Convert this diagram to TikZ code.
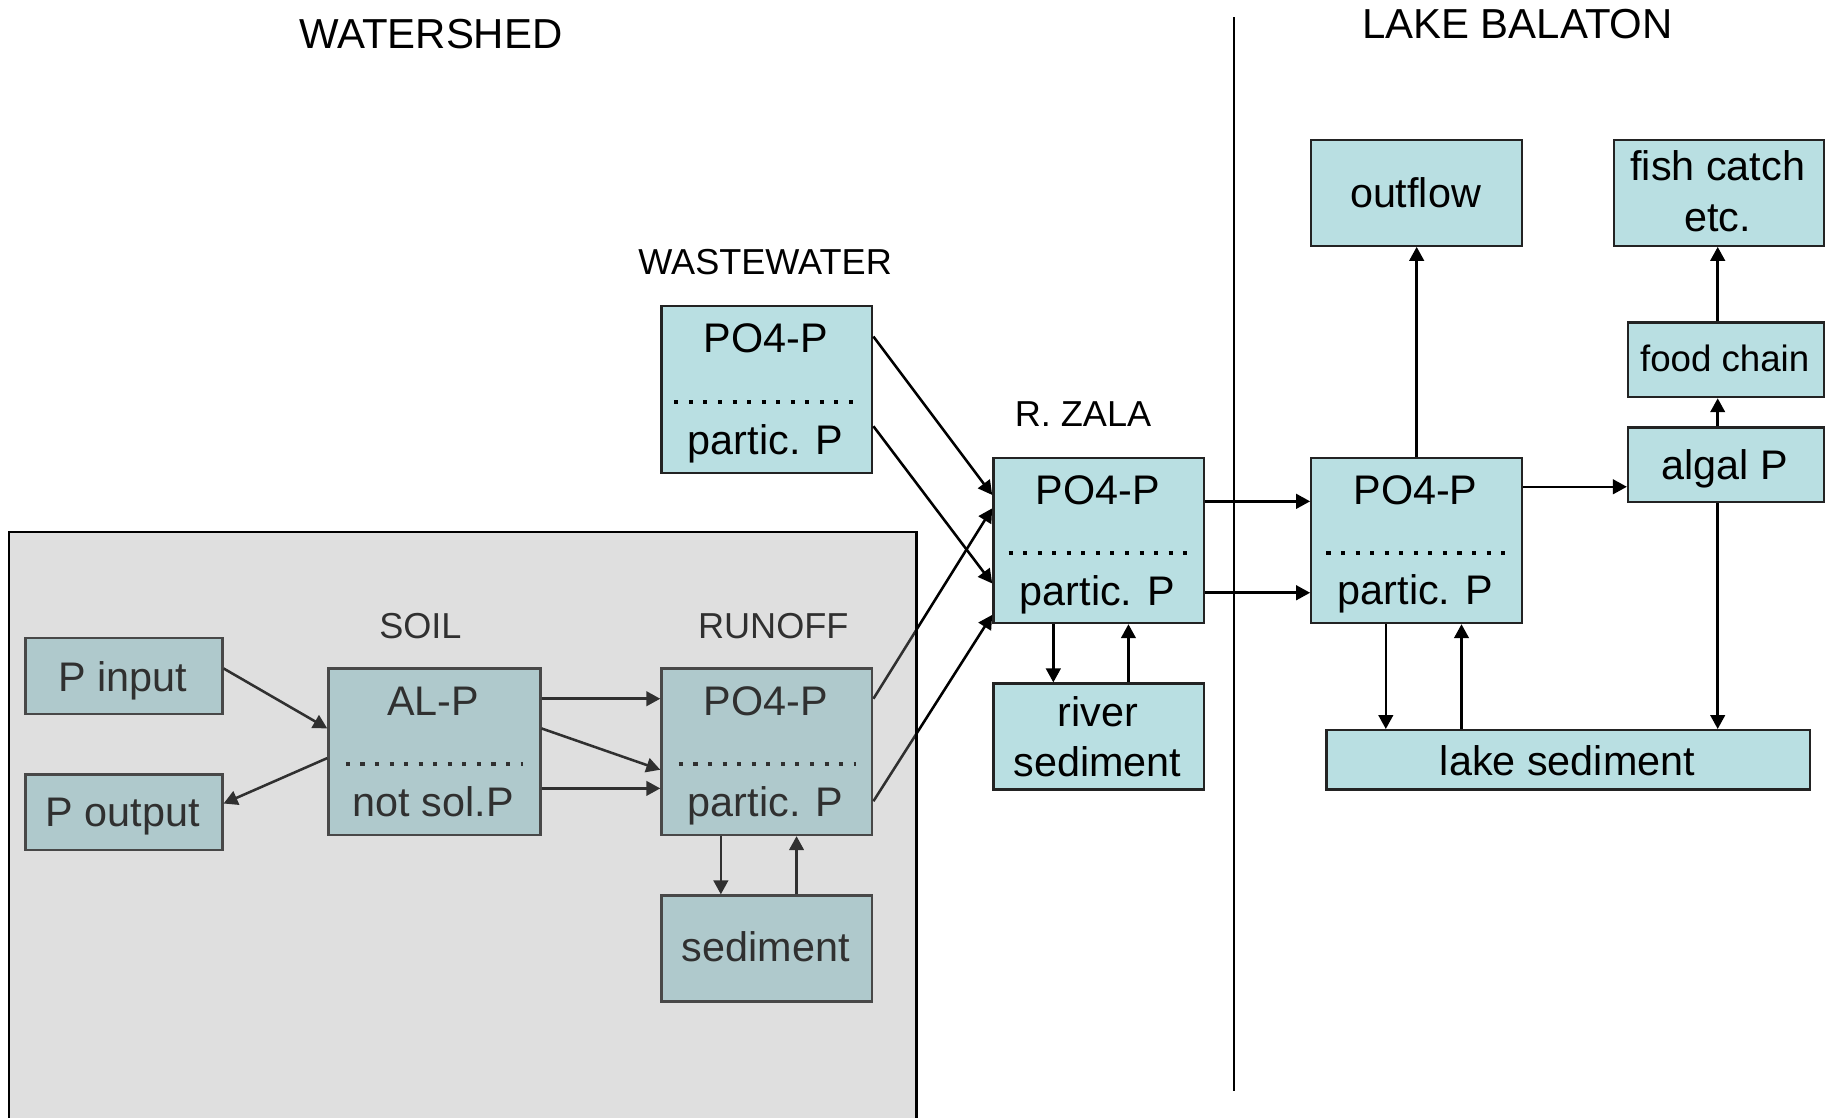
\documentclass[tikz,border=0pt]{standalone}
\usepackage{fontspec}
\setmainfont{Liberation Sans}
\usetikzlibrary{arrows.meta,calc}
\definecolor{boxfill}{RGB}{185,223,226}
\definecolor{ovl}{RGB}{156,156,156}
\definecolor{edge}{RGB}{35,35,35}
\begin{document}
\begin{tikzpicture}[x=1pt,y=-1pt,
  box/.style={draw=edge, line width=2pt, fill=boxfill, inner sep=0pt, anchor=north west},
  txt/.style={anchor=base, inner sep=0pt, font=\fontsize{35.5}{40}\selectfont},
  small/.style={anchor=base, inner sep=0pt, font=\fontsize{31.5}{36}\selectfont},
  lbl/.style={anchor=base, inner sep=0pt, font=\fontsize{31}{36}\selectfont},
  ttl/.style={anchor=base, inner sep=0pt, font=\fontsize{36}{40}\selectfont},
  arr/.style={-{Triangle[length=12pt,width=12.5pt]}, line width=2.2pt},
  dotrow/.style={line width=3.5pt, dash pattern=on 3.5pt off 9pt}
]
\useasboundingbox (0,0) rectangle (1568,960);
\fill[white] (0,0) rectangle (1568,960);

% titles and labels
\node[ttl] (tws) at (370,41.5) {WATERSHED};
\node[ttl] (tlb) at (1303,33) {LAKE BALATON};
\node[lbl] (lww) at (657,236) {WASTEWATER};
\node[lbl] (lrz) at (930,366) {R. ZALA};
\node[lbl] (lsoil) at (361,548) {SOIL};
\node[lbl] (lrun) at (664,548) {RUNOFF};

% divider
\draw[line width=1.8pt] (1060,15) -- (1060,937);

% boxes
\node[box, minimum width=169pt, minimum height=65pt] (pin) at (21,547) {};
\node[box, minimum width=169pt, minimum height=65pt] (pout) at (21,664) {};
\node[box, minimum width=182pt, minimum height=143pt] (soil) at (281,573) {};
\node[box, minimum width=181pt, minimum height=143pt] (run) at (567,573) {};
\node[box, minimum width=181pt, minimum height=91pt] (sed) at (567,768) {};
\node[box, minimum width=181pt, minimum height=143pt] (ww) at (567,262) {};
\node[box, minimum width=181pt, minimum height=142pt] (zala) at (852,392) {};
\node[box, minimum width=181pt, minimum height=91pt] (rsed) at (852,586) {};
\node[box, minimum width=181pt, minimum height=142pt] (lake) at (1125,392) {};
\node[box, minimum width=181pt, minimum height=91pt] (out) at (1125,119) {};
\node[box, minimum width=180pt, minimum height=91pt] (fish) at (1385,119) {};
\node[box, minimum width=168pt, minimum height=64pt] (food) at (1397,276) {};
\node[box, minimum width=168pt, minimum height=64pt] (alg) at (1397,366) {};
\node[box, minimum width=415pt, minimum height=51pt] (lsed) at (1138,626) {};

% box texts
\node[txt] (tpin) at (105.5,594) {P input};
\node[txt] (tpout) at (105.5,710) {P output};
\node[txt] (tsoil1) at (372,614) {AL-P};
\node[txt] (tsoil2) at (372,701) {not sol.P};
\node[txt] (trun1) at (657.5,614) {PO4-P};
\node[txt] (trun2) at (657.5,701) {partic. P};
\node[txt] (tsed) at (657.5,826) {sediment};
\node[txt] (tww1) at (657.5,303) {PO4-P};
\node[txt] (tww2) at (657.5,390) {partic. P};
\node[txt] (tz1) at (942.5,433) {PO4-P};
\node[txt] (tz2) at (942.5,520) {partic. P};
\node[txt] (trs1) at (942.5,624) {river};
\node[txt] (trs2) at (942.5,667) {sediment};
\node[txt] (tl1) at (1215.5,433) {PO4-P};
\node[txt] (tl2) at (1215.5,519) {partic. P};
\node[txt] (tout) at (1215.5,178) {outflow};
\node[txt] (tf1) at (1475,155) {fish catch};
\node[txt] (tf2) at (1475,199) {etc.};
\node[small] (tfood) at (1481,319) {food chain};
\node[txt] (talg) at (1481,412) {algal P};
\node[txt] (tlsed) at (1346,665.5) {lake sediment};

% dotted separators
\draw[dotrow] (297,656) -- (449,656);
\draw[dotrow] (583,656) -- (735,656);
\draw[dotrow] (579,345) -- (740,345);
\draw[dotrow] (866,475) -- (1021,475);
\draw[dotrow] (1139,475) -- (1299,475);

% connectors
\draw[arr] ($(pin.north east)+(0,27)$) -- ($(soil.north west)+(0,52.5)$);
\draw[arr] ($(soil.north west)+(0,78)$) -- ($(pout.north east)+(0,26)$);
\draw[arr] ($(soil.north east)+(0,27)$) -- ($(run.north west)+(0,27)$);
\draw[arr] ($(soil.north east)+(0,52.5)$) -- ($(run.north west)+(0,88)$);
\draw[arr] ($(soil.north east)+(0,104)$) -- ($(run.north west)+(0,104)$);
\draw[arr] ($(run.south west)+(52,0)$) -- ($(sed.north west)+(52,0)$);
\draw[arr] ($(sed.north west)+(117,0)$) -- ($(run.south west)+(117,0)$);
\draw[arr] ($(run.north east)+(0,27)$) -- ($(zala.north west)+(0,44.5)$);
\draw[arr] ($(run.north east)+(0,115)$) -- ($(zala.north west)+(0,136)$);
\draw[arr] ($(ww.north east)+(0,27)$) -- ($(zala.north west)+(0,33)$);
\draw[arr] ($(ww.north east)+(0,104)$) -- ($(zala.north west)+(0,109)$);
\draw[arr] ($(zala.north east)+(0,38.5)$) -- ($(lake.north west)+(0,38.5)$);
\draw[arr] ($(zala.north east)+(0,117)$) -- ($(lake.north west)+(0,117)$);
\draw[arr] ($(zala.south west)+(52.5,0)$) -- ($(rsed.north west)+(52.5,0)$);
\draw[arr] ($(rsed.north west)+(117,0)$) -- ($(zala.south west)+(117,0)$);
\draw[arr] (lake.north) -- (out.south);
\draw[arr] ($(lake.north east)+(0,26)$) -- ($(alg.north west)+(0,52)$);
\draw[arr] ($(alg.north west)+(78,0)$) -- ($(food.south west)+(78,0)$);
\draw[arr] ($(food.north west)+(78,0)$) -- ($(fish.south west)+(90,0)$);
\draw[arr] ($(alg.south west)+(78,0)$) -- ($(lsed.north west)+(337,0)$);
\draw[arr] ($(lake.south west)+(65,0)$) -- ($(lsed.north west)+(52,0)$);
\draw[arr] ($(lsed.north west)+(117,0)$) -- ($(lake.south west)+(130,0)$);

% watershed overlay
\fill[ovl, opacity=0.314] (8,457) rectangle (787,960);
\draw[line width=2pt] (8,960) -- (8,457) -- (787,457) -- (787,960);
\end{tikzpicture}
\end{document}
